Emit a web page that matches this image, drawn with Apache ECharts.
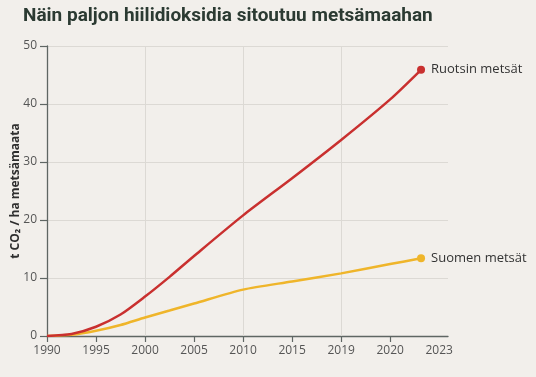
<!DOCTYPE html>
<html>
<head>
<meta charset="utf-8">
<script src="https://cdn.jsdelivr.net/npm/echarts@6/dist/echarts.min.js"></script>
<style>
html,body{margin:0;padding:0;background:#f2efeb;}
#c{width:536px;height:377px;}
</style>
</head>
<body>
<div id="c"></div>
<script>
// Tick labels along the x axis (evenly spaced positions 0..8)
const tickLabels = ['1990','1995','2000','2005','2010','2015','2019','2020','2023'];
// x positions of sampled points (in tick-index units)
const xPos   = [0, 0.5, 1, 1.5, 2, 2.5, 3, 4, 5, 6, 7, 7.63];
const ruotsi = [0, 0.35, 1.6, 3.7, 6.8, 10.2, 13.8, 20.8, 27.2, 33.8, 40.8, 45.9];
const suomi  = [0, 0.2, 0.9, 1.9, 3.2, 4.4, 5.6, 8.0, 9.4, 10.8, 12.4, 13.4];
const seriesNames = ['Ruotsin metsät', 'Suomen metsät'];
const vGridAt = [2, 4, 6];

function build(values, name) {
  return xPos.map((x, i) => {
    if (i === xPos.length - 1) {
      return {
        value: [x, values[i]],
        symbol: 'circle', symbolSize: 8,
        label: { show: true, position: 'right', distance: 6, formatter: name,
                 color: '#333', fontSize: 13, fontFamily: 'Open Sans' }
      };
    }
    return { value: [x, values[i]], symbol: 'none' };
  });
}

const chart = echarts.init(document.getElementById('c'));
chart.setOption({
  backgroundColor: '#f2efeb',
  animation: false,
  title: {
    text: 'Näin paljon hiilidioksidia sitoutuu metsämaahan',
    left: 18, top: 2,
    textStyle: { fontFamily: 'Roboto', fontWeight: 'bold', fontSize: 19, color: '#2b3a32' }
  },
  grid: { left: 47, right: 88, top: 46, bottom: 41, containLabel: false, outerBoundsMode: 'none' },
  xAxis: {
    type: 'value', min: 0, max: 8.18, interval: 1,
    axisLine: { show: true, lineStyle: { color: '#5f6663', width: 1.3 } },
    axisTick: { show: true, customValues: [0,1,2,3,4,5,6,7], length: 6, lineStyle: { color: '#5f6663', width: 1.2 } },
    axisLabel: { customValues: [0,1,2,3,4,5,6,7,8], formatter: v => tickLabels[Math.round(v)] || '',
                 color: '#555', fontSize: 12, fontFamily: 'Open Sans', margin: 9 },
    splitLine: { show: false }
  },
  yAxis: {
    type: 'value', min: 0, max: 50, interval: 10,
    name: 't CO₂ / ha metsämaata', nameLocation: 'middle', nameGap: 25, nameMoveOverlap: false,
    nameTextStyle: { fontFamily: 'Open Sans', fontWeight: 'bold', fontSize: 12, color: '#2e2e2e' },
    axisLine: { show: true, lineStyle: { color: '#5f6663', width: 1.3 } },
    axisTick: { show: true, length: 7, lineStyle: { color: '#5f6663', width: 1.2 } },
    axisLabel: { color: '#555', fontSize: 12, fontFamily: 'Open Sans', margin: 10 },
    splitLine: { show: true, lineStyle: { color: '#dcd9d4', width: 1 } }
  },
  series: [
    {
      type: 'line', name: 'grid', data: [], silent: true, z: 1,
      markLine: {
        silent: true, symbol: 'none', label: { show: false }, z: 1,
        lineStyle: { color: '#dcd9d4', width: 1, type: 'solid' },
        data: vGridAt.map(x => [{ coord: [x, 0] }, { coord: [x, 50] }])
      }
    },
    {
      type: 'line', name: seriesNames[1], smooth: 0.25,
      data: build(suomi, seriesNames[1]),
      lineStyle: { color: '#efb52a', width: 2.5 },
      itemStyle: { color: '#efb52a' },
      z: 3
    },
    {
      type: 'line', name: seriesNames[0], smooth: 0.25,
      data: build(ruotsi, seriesNames[0]),
      lineStyle: { color: '#c9302f', width: 2.5 },
      itemStyle: { color: '#c9302f' },
      z: 4
    }
  ]
});
</script>
</body>
</html>
